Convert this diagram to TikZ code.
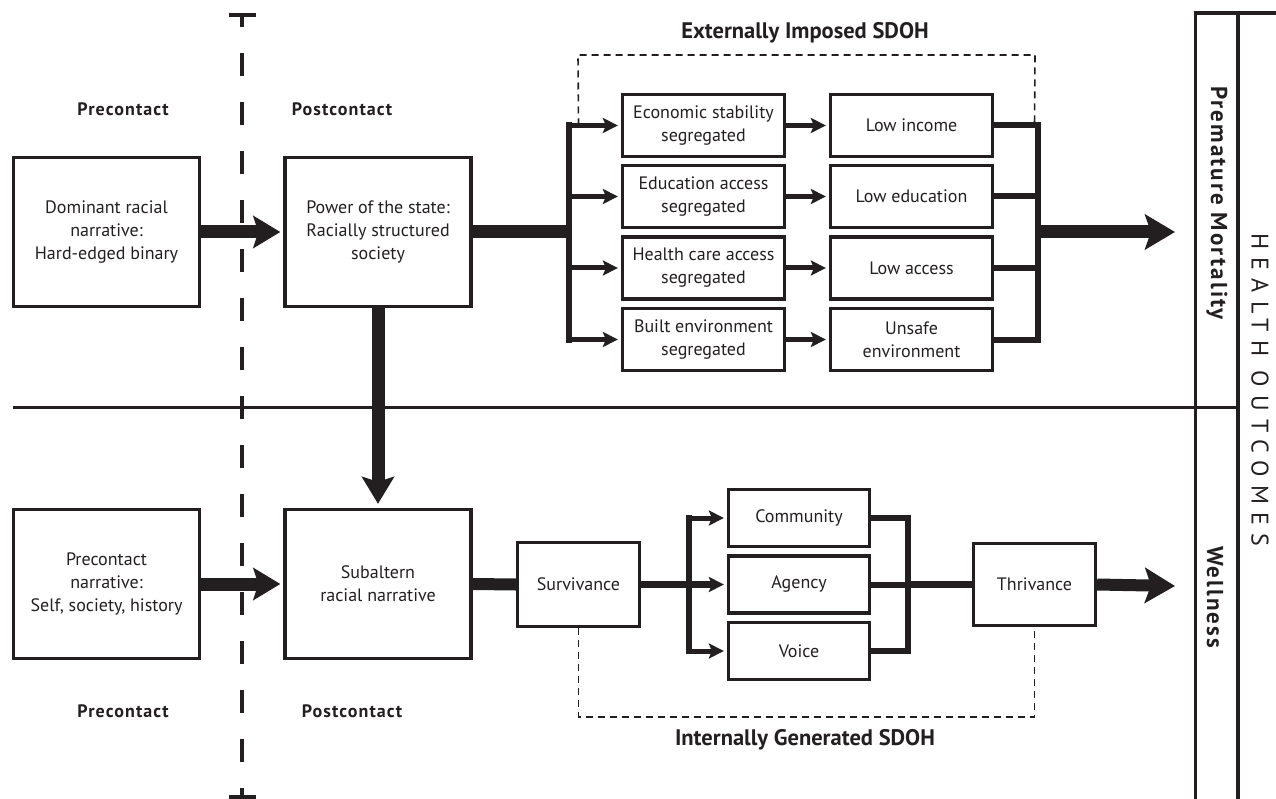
\documentclass[tikz,border=0pt]{standalone}
\usepackage{fontspec}
\setmainfont{PT Sans}
\newfontfamily\lblfont[LetterSpace=6]{PT Sans}
\newfontfamily\sidefont[LetterSpace=9]{PT Sans}
\newfontfamily\hofont[LetterSpace=34]{PT Sans}
\usetikzlibrary{arrows.meta}
\definecolor{ink}{HTML}{231F20}
\tikzset{
  box/.style={draw=ink, line width=3.3pt, text=ink, align=center, inner sep=0pt,
    font=\fontsize{18}{23}\selectfont},
  bigbox/.style={box, minimum width=186pt, minimum height=149pt},
  sbox/.style={box, minimum width=162pt, minimum height=62pt},
  vbox/.style={box, minimum width=141pt, minimum height=57pt},
  mbox/.style={box, minimum width=122pt, minimum height=84pt},
  lbl/.style={text=ink, font=\lblfont\bfseries\fontsize{18}{20}\selectfont, inner sep=0pt},
  sdoh/.style={text=ink, font=\bfseries\fontsize{22.5}{24}\selectfont, inner sep=0pt},
  side/.style={text=ink, rotate=-90, font=\sidefont\bfseries\fontsize{23}{24}\selectfont, inner sep=0pt},
  bigarrow/.style={draw=ink, line width=13pt, -{Stealth[length=27pt,width=32pt,inset=5pt]}},
  brarrow/.style={draw=ink, line width=5pt, -{Stealth[length=15pt,width=15pt,inset=3pt]}, shorten >=3pt},
  thickline/.style={draw=ink, line width=13pt},
  medline/.style={draw=ink, line width=6pt},
  barline/.style={draw=ink, line width=6pt, line cap=rect},
  frame/.style={draw=ink, line width=3.5pt},
  sdohdash/.style={draw=ink, line width=1.6pt, dash pattern=on 7pt off 5pt},
}
\begin{document}
\begin{tikzpicture}[x=1pt,y=-1pt]
\useasboundingbox (0,0) rectangle (1276,799);
% frame lines
\draw[frame] (1195.5,799) -- (1195.5,13) -- (1276,13);
\draw[frame] (1238,13) -- (1238,799);
\draw[draw=ink, line width=3pt] (13,407) -- (1238,407);
% dashed contact line
\coordinate (dtop) at (242,15);
\coordinate (dbot) at (242,797);
\draw[draw=ink, line width=4pt, dash pattern=on 23pt off 26pt, dash phase=11pt] (dtop) -- (dbot);
\draw[draw=ink, line width=4pt] ([xshift=-13.5pt]dtop) -- ([xshift=13.5pt]dtop);
\draw[draw=ink, line width=4pt] ([xshift=-13.5pt]dbot) -- ([xshift=13.5pt]dbot);
% labels
\node[lbl] (pre1) at (123,109) {Precontact};
\node[lbl] (post1) at (342,109) {Postcontact};
\node[lbl] (pre2) at (123,711) {Precontact};
\node[lbl] (post2) at (352,711) {Postcontact};
\node[sdoh] (ext) at (805,33) {Externally Imposed SDOH};
\node[sdoh] (int) at (805,740) {Internally Generated SDOH};
\node[side] (pm) at (1217,203) {Premature Mortality};
\node[side] (wl) at (1215,597) {Wellness};
\node[text=ink, rotate=-90, inner sep=0pt, font=\hofont\fontsize{24}{24}\selectfont] (ho) at (1260,390) {HEALTH OUTCOMES};
% big boxes
\node[bigbox] (dom) at (106.5,232) {Dominant racial\\narrative:\\Hard-edged binary};
\node[bigbox] (pow) at (378,232) {Power of the state:\\Racially structured\\society};
\node[bigbox] (pcn) at (106.5,584) {Precontact\\narrative:\\Self, society, history};
\node[bigbox] (sub) at (378,584) {Subaltern\\racial narrative};
% SDOH boxes
\node[sbox] (econ) at (703.5,125.5) {Economic stability\\segregated};
\node[sbox] (educ) at (703.5,196.5) {Education access\\segregated};
\node[sbox] (hca) at (703.5,268) {Health care access\\segregated};
\node[sbox] (built) at (703.5,339.5) {Built environment\\segregated};
\node[sbox] (inc) at (911.5,125.5) {Low income};
\node[sbox] (led) at (911.5,196.5) {Low education};
\node[sbox] (lac) at (911.5,268) {Low access};
\node[sbox] (uns) at (911.5,339.5) {Unsafe\\environment};
% lower boxes
\node[mbox] (surv) at (578.5,584.5) {Survivance};
\node[vbox] (comm) at (799,518) {Community};
\node[vbox] (agen) at (799,584.5) {Agency};
\node[vbox] (voic) at (799,651) {Voice};
\node[mbox, minimum height=82pt] (thr) at (1034.5,584.5) {Thrivance};
% dashed SDOH outlines
\draw[sdohdash] (surv.south |- econ.west) -- (578,55) -- (1035,55) -- (thr.south |- inc.east);
\draw[sdohdash] (surv.south) -- (surv.south |- 0,717) -- (thr.south |- 0,717) -- (thr.south);
% main arrows
\draw[bigarrow, shorten >=3pt] (dom.east) -- (pow.west);
\draw[bigarrow, shorten >=3pt] (pcn.east) -- (sub.west);
\draw[bigarrow, shorten >=4pt] (pow.south) -- (sub.north);
% top branch
\coordinate (bx) at (569,232);
\draw[thickline] (pow.east) -- (bx);
\draw[barline] (bx |- econ.west) -- (bx |- built.west);
\foreach \n in {econ,educ,hca,built} {
  \draw[brarrow] (bx |- \n.west) -- (\n.west);
}
\draw[brarrow] (econ.east) -- (inc.west);
\draw[brarrow] (educ.east) -- (led.west);
\draw[brarrow] (hca.east) -- (lac.west);
\draw[brarrow] (built.east) -- (uns.west);
\coordinate (cx) at (1038,232);
\coordinate (pmtip) at (1175,232);
\foreach \n in {inc,led,lac,uns} {
  \draw[medline] (\n.east) -- (cx |- \n.east);
}
\draw[barline] (cx |- inc.east) -- (cx |- uns.east);
\draw[bigarrow, -{Stealth[length=30pt,width=35pt,inset=6pt]}] (cx) -- (pmtip);
% bottom branch
\draw[draw=ink, line width=12pt] (sub.east) -- (surv.west);
\coordinate (lb) at (689,584.5);
\draw[draw=ink, line width=7pt] (surv.east) -- (lb);
\draw[barline] (lb |- comm.west) -- (lb |- voic.west);
\draw[brarrow] (lb |- comm.west) -- (comm.west);
\draw[brarrow, line width=7pt] (lb) -- (agen.west);
\draw[brarrow] (lb |- voic.west) -- (voic.west);
\coordinate (rc) at (908,584.5);
\foreach \n in {comm,agen,voic} {
  \draw[medline] (\n.east) -- (rc |- \n.east);
}
\draw[barline] (rc |- comm.east) -- (rc |- voic.east);
\draw[draw=ink, line width=7pt] (rc) -- (thr.west);
\coordinate (wltip) at (1175,586);
\draw[bigarrow, line width=12pt, -{Stealth[length=30pt,width=35pt,inset=6pt]}] (thr.east) -- (wltip);
\end{tikzpicture}
\end{document}
